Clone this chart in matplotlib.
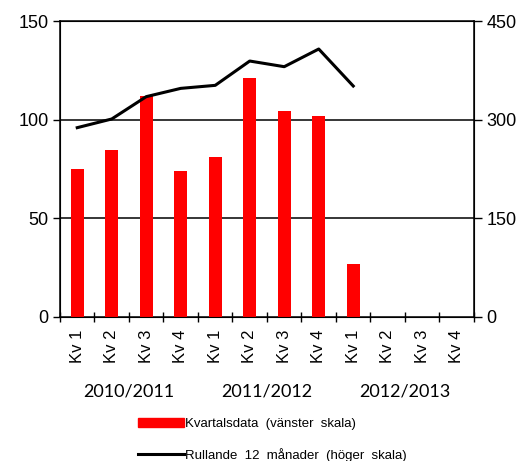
import numpy as np
import matplotlib.pyplot as plt
from matplotlib.lines import Line2D
from matplotlib.patches import Patch

quarters = ["Kv 1", "Kv 2", "Kv 3", "Kv 4"] * 3
years = ["2010/2011", "2011/2012", "2012/2013"]
kvartal = [75, 84.6, 112.1, 74.1, 81.0, 120.9, 104.5, 101.8, 26.6]
rullande = [287.7, 300.9, 334.9, 347.5, 352.1, 389.1, 380.5, 407.4, 351.1]

plt.rcParams['font.family'] = ['Liberation Sans', 'DejaVu Sans']

fig = plt.figure(figsize=(5.28, 4.61), dpi=100)
ax = fig.add_axes([0.1136, 0.313, 0.7841, 0.6414])

x = np.arange(len(quarters))
ax.bar(x[:len(kvartal)], kvartal, width=0.39, color='#ff0000', zorder=3)
ax.set_xlim(-0.5, len(quarters) - 0.5)
ax.set_ylim(0, 150)
ax.set_yticks([0, 50, 100, 150])
ax.tick_params(axis='y', labelsize=13, length=5, width=1, direction='out', pad=3)
for v in [50, 100]:
    ax.axhline(v, color='black', lw=1.1, zorder=2)

ax.set_xticks(x)
ax.set_xticklabels(quarters, rotation=90, fontsize=12)
ax.tick_params(axis='x', which='major', length=0, pad=9)
ax.set_xticks(np.arange(-0.5, len(quarters)), minor=True)
ax.tick_params(axis='x', which='minor', direction='inout', length=7, width=1)
for s in ax.spines.values():
    s.set_linewidth(1.1)

ax2 = ax.twinx()
ax2.plot(x[:len(rullande)], rullande, color='black', lw=2.2, zorder=4)
ax2.set_ylim(0, 450)
ax2.set_yticks([0, 150, 300, 450])
ax2.tick_params(axis='y', labelsize=13, length=6, width=1, direction='out', pad=3)

for i, yr in enumerate(years):
    ax.text(4 * i + 1.5, -0.254, yr, transform=ax.get_xaxis_transform(),
            ha='center', va='center', fontsize=13, family=['Lato', 'DejaVu Sans'])

handles = [Patch(color='#ff0000'), Line2D([], [], color='black', lw=2.2)]
labels = ["Kvartalsdata  (vänster  skala)", "Rullande  12  månader  (höger  skala)"]
fig.legend(handles, labels, loc='upper left', bbox_to_anchor=(0.261, 0.093),
           frameon=False, fontsize=9.5, handlelength=3.5, handleheight=0.6,
           handletextpad=0.1, labelspacing=1.35, borderaxespad=0, borderpad=0)

fig.savefig('out.png', dpi=100)
